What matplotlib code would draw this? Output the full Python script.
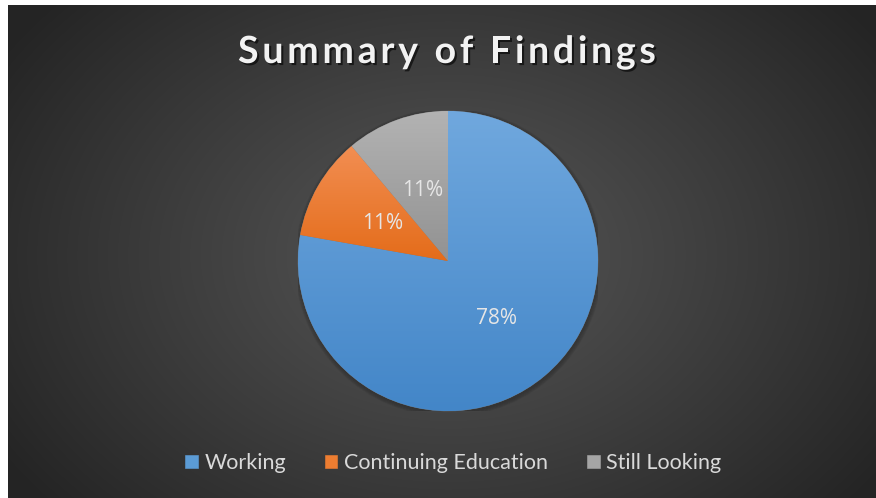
import numpy as np
import matplotlib.pyplot as plt
import matplotlib.patheffects as pe
from matplotlib.colors import LinearSegmentedColormap

# data
title = "Summary of Findings"
labels = ["Working", "Continuing Education", "Still Looking"]
counts = [7, 1, 1]
top_colors = ["#70a8de", "#f28e52", "#b3b3b3"]
bottom_colors = ["#4386c8", "#e46c1a", "#929292"]
legend_colors = ["#5b9bd5", "#ed7d31", "#a5a5a5"]

W, H = 876, 498
fig = plt.figure(figsize=(W / 100, H / 100), dpi=100)
fig.patch.set_facecolor("white")

# background with radial gradient
bg = fig.add_axes([8 / W, 0, 1 - 8 / W, 1 - 5 / H])
bg.set_axis_off()
yy, xx = np.mgrid[0:H - 5, 0:W - 8]
cx, cy = 440, 250
r = np.sqrt(((xx - cx) / 520.0) ** 2 + ((yy - cy) / 380.0) ** 2)
r = np.clip(r, 0, 1)
shade = 0.335 - (0.335 - 0.145) * r ** 1.1
bg.imshow(np.dstack([shade] * 3), aspect="auto", interpolation="bilinear")

# pie
R = 150
pcx, pcy = 448, 261
ax = fig.add_axes([(pcx - R) / W, (H - pcy - R) / H, 2 * R / W, 2 * R / H])
ax.set_axis_off()

# soft shadow
for k in range(5):
    sh = plt.Circle((0.004, -0.01), 1.0 + 0.006 * k, color="black", alpha=0.035, zorder=0)
    ax.add_patch(sh)

wedges, texts, autotexts = ax.pie(
    counts, colors=legend_colors, startangle=90, counterclock=False,
    autopct="%1.0f%%", pctdistance=0.5, radius=1,
    wedgeprops=dict(linewidth=0.4, edgecolor="#707070"),
    textprops=dict(color="#e6e6e6", fontsize=15, family="Open Sans"))
ax.set_aspect("equal")

# vertical gradient inside each wedge
for w, c1, c2 in zip(wedges, top_colors, bottom_colors):
    ext = w.get_path().get_extents()
    cmap = LinearSegmentedColormap.from_list("g", [c2, c1])
    grad = np.linspace(0, 1, 256).reshape(-1, 1)
    im = ax.imshow(grad, cmap=cmap, origin="lower", aspect="auto",
                   extent=(ext.x0, ext.x1, ext.y0, ext.y1), zorder=1.5)
    im.set_clip_path(w)
for t in autotexts:
    t.set_zorder(5)
ax.set_xlim(-1, 1)
ax.set_ylim(-1, 1)

# title, drawn letter by letter to get the wide spacing
renderer = fig.canvas.get_renderer()
tprops = dict(fontsize=27, fontweight="bold", family="Lato", color="#f2f2f2")


def text_width(s):
    t = fig.text(0, 0, s, **tprops)
    wd = t.get_window_extent(renderer).width
    t.remove()
    return wd


ref = text_width("x")
advances = [text_width(ch + "x") - ref for ch in title]
target = 418
gap = (target - sum(advances)) / (len(title) - 1)
x = 238
for ch, adv in zip(title, advances):
    fig.text(x / W, 1 - 52 / H, ch, ha="left", va="center", **tprops,
             path_effects=[pe.withSimplePatchShadow(offset=(1.5, -1.5), shadow_rgbFace="black", alpha=0.6)])
    x += adv + gap

# legend
leg = fig.legend(wedges, labels, loc="center", bbox_to_anchor=(453 / W, 1 - 463 / H),
                 ncol=3, frameon=False, handlelength=0.6, handleheight=0.6,
                 handletextpad=0.3, columnspacing=1.8,
                 prop=dict(family="Lato", size=15.5))
for txt in leg.get_texts():
    txt.set_color("#d9d9d9")
for h, c in zip(leg.legend_handles, legend_colors):
    h.set_facecolor(c)
    h.set_edgecolor(c)

fig.savefig("out.png", dpi=100, facecolor=fig.get_facecolor())
